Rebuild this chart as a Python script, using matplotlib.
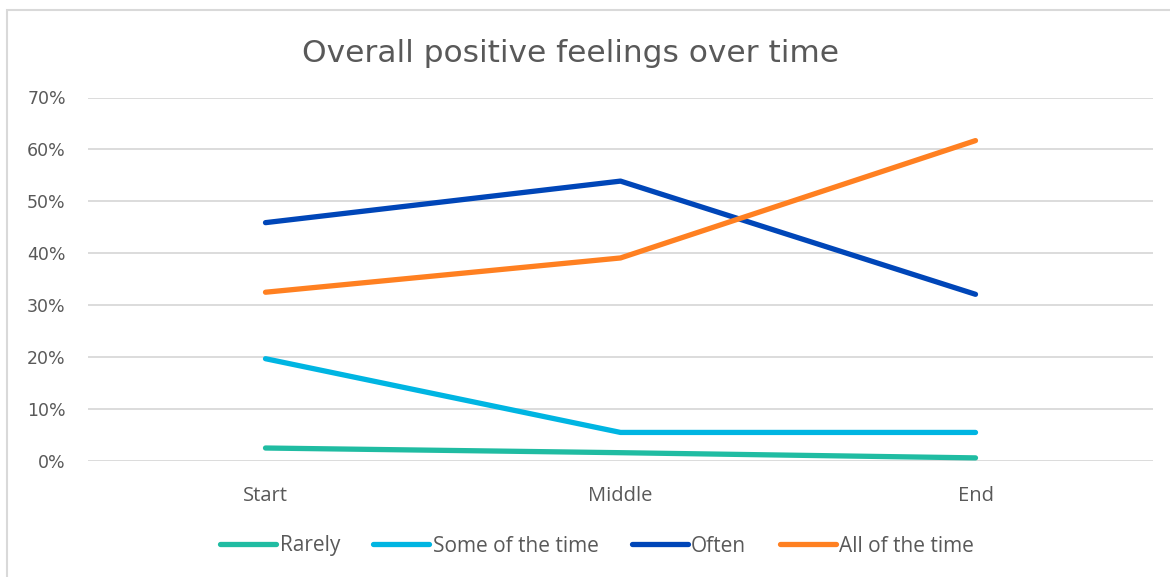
import matplotlib.pyplot as plt
from matplotlib.patches import Rectangle
from matplotlib.ticker import PercentFormatter

# Data
stages = ["Start", "Middle", "End"]
rarely = [2.5, 1.6, 0.6]
some_of_the_time = [19.7, 5.5, 5.5]
often = [45.9, 53.9, 32.1]
all_of_the_time = [32.5, 39.1, 61.7]

series_names = ["Rarely", "Some of the time", "Often", "All of the time"]
colors = ["#20BCA2", "#00B5E2", "#0046B8", "#FF8021"]

text_color = "#595959"
plt.rcParams['font.family'] = ['Open Sans', 'DejaVu Sans']

fig = plt.figure(figsize=(11.7, 5.77), dpi=100)
ax = fig.add_axes([88 / 1170, 116 / 577, 1065 / 1170, 363.5 / 577])

x = range(len(stages))
for vals, name, col in zip([rarely, some_of_the_time, often, all_of_the_time], series_names, colors):
    ax.plot(x, vals, color=col, lw=3.8, solid_capstyle='round', label=name)

ax.set_xlim(-0.5, 2.5)
ax.set_ylim(0, 70)
ax.set_yticks(range(0, 71, 10))
ax.yaxis.set_major_formatter(PercentFormatter(decimals=0))
ax.set_xticks(list(x))
ax.set_xticklabels(stages)
ax.grid(axis='y', color='#D9D9D9', lw=1.3)
ax.set_axisbelow(True)
for s in ax.spines.values():
    s.set_visible(False)
ax.tick_params(length=0, colors=text_color)
ax.tick_params(axis='y', pad=16)
ax.tick_params(axis='x', pad=18, labelsize=14.5)
for lbl in ax.get_yticklabels():
    lbl.set_family('DejaVu Sans')
    lbl.set_fontsize(12.5)

fig.text(570 / 1170, 1 - 53 / 577, "Overall positive feelings over time", ha='center', va='center',
         fontsize=22.5, color=text_color, family='DejaVu Sans')

fig.legend(loc='center', bbox_to_anchor=(597 / 1170, 1 - 546 / 577), ncol=4, frameon=False,
           fontsize=15, handlelength=2.7, handletextpad=0.15, columnspacing=1.6,
           labelcolor=text_color)

fig.patches.append(Rectangle((7 / 1170, -0.01), 1.1, 1 - 10 / 577 + 0.01, transform=fig.transFigure,
                             fill=False, edgecolor='#D9D9D9', lw=1.5))

fig.savefig("out.png", dpi=100)
